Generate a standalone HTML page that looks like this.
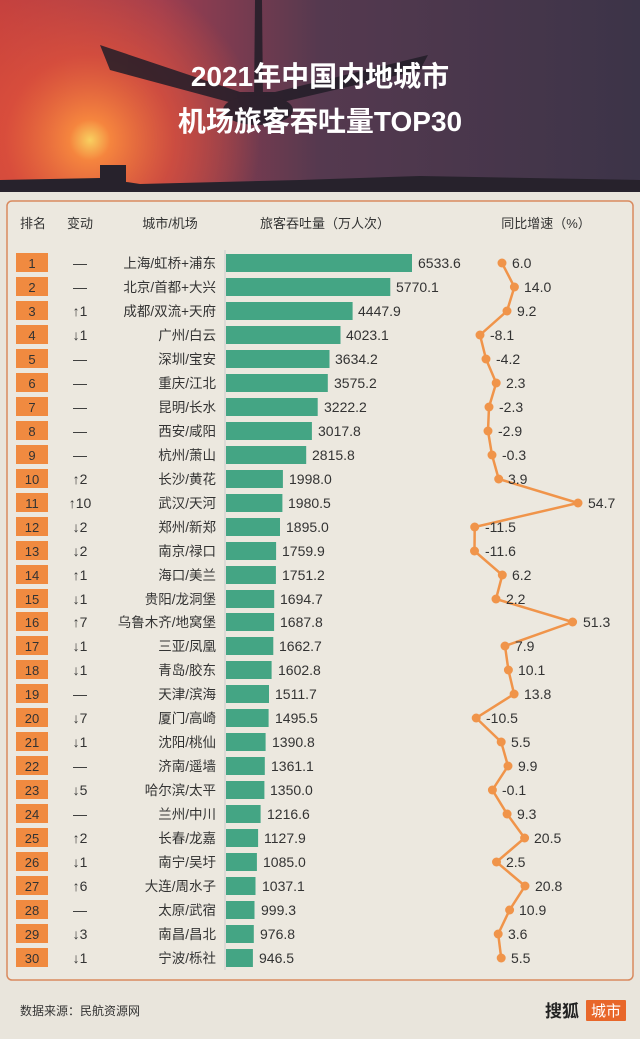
<!DOCTYPE html>
<html><head><meta charset="utf-8"><style>
html,body{margin:0;padding:0;background:#e9e5dc;}
svg{display:block;font-family:"Liberation Sans","Noto Sans CJK SC",sans-serif;}
</style></head><body>
<svg width="640" height="1039" viewBox="0 0 640 1039" xmlns="http://www.w3.org/2000/svg">
<defs>
<linearGradient id="sky" x1="0" y1="0" x2="1" y2="0">
<stop offset="0" stop-color="#c4403e"/><stop offset="0.25" stop-color="#9c3d50"/><stop offset="0.5" stop-color="#55394f"/><stop offset="1" stop-color="#3c3448"/>
</linearGradient>
<radialGradient id="sun" cx="90" cy="140" r="170" gradientUnits="userSpaceOnUse">
<stop offset="0" stop-color="#f8d060"/><stop offset="0.12" stop-color="#f5853e"/><stop offset="0.5" stop-color="#e2533a" stop-opacity="0.7"/><stop offset="1" stop-color="#e2533a" stop-opacity="0"/>
</radialGradient>
</defs>
<rect x="0" y="0" width="640" height="192" fill="url(#sky)"/>
<rect x="0" y="0" width="640" height="192" fill="url(#sun)"/>
<path d="M0 192 L0 180 L100 178 L140 184 L300 180 L420 176 L640 180 L640 192Z" fill="#27222c"/>
<rect x="100" y="165" width="26" height="20" fill="#27222c"/>
<g fill="#221d28" opacity="0.85">
<path d="M255 0 L262 0 L263 100 L254 100Z"/>
<path d="M100 45 L110 70 L240 105 L270 105 L420 70 L428 55 L275 92 L240 92Z"/>
<ellipse cx="258" cy="110" rx="35" ry="15"/>
</g>
<text x="320" y="86" font-size="28" font-weight="bold" fill="#fff" text-anchor="middle">2021年中国内地城市</text>
<text x="320" y="131" font-size="28" font-weight="bold" fill="#fff" text-anchor="middle">机场旅客吞吐量TOP30</text>
<rect x="0" y="192" width="640" height="847" fill="#e9e5dc"/>
<rect x="7" y="201" width="626" height="779" rx="5" fill="#ece8df" stroke="#d98a5e" stroke-width="1.5"/>
<g font-size="13" fill="#333" text-anchor="middle">
<text x="33" y="228">排名</text><text x="80" y="228">变动</text><text x="170" y="228">城市/机场</text><text x="325" y="228">旅客吞吐量（万人次）</text><text x="546" y="228">同比增速（%）</text>
</g>
<line x1="225" y1="250" x2="225" y2="970" stroke="#ccc" stroke-width="1"/>
<g fill="#f08a40">
<rect x="16" y="253" width="32" height="19"/><rect x="16" y="277" width="32" height="19"/><rect x="16" y="301" width="32" height="19"/><rect x="16" y="325" width="32" height="19"/><rect x="16" y="349" width="32" height="19"/><rect x="16" y="373" width="32" height="19"/><rect x="16" y="397" width="32" height="19"/><rect x="16" y="421" width="32" height="19"/><rect x="16" y="445" width="32" height="19"/><rect x="16" y="469" width="32" height="19"/><rect x="16" y="493" width="32" height="19"/><rect x="16" y="517" width="32" height="19"/><rect x="16" y="541" width="32" height="19"/><rect x="16" y="565" width="32" height="19"/><rect x="16" y="589" width="32" height="19"/><rect x="16" y="612" width="32" height="19"/><rect x="16" y="636" width="32" height="19"/><rect x="16" y="660" width="32" height="19"/><rect x="16" y="684" width="32" height="19"/><rect x="16" y="708" width="32" height="19"/><rect x="16" y="732" width="32" height="19"/><rect x="16" y="756" width="32" height="19"/><rect x="16" y="780" width="32" height="19"/><rect x="16" y="804" width="32" height="19"/><rect x="16" y="828" width="32" height="19"/><rect x="16" y="852" width="32" height="19"/><rect x="16" y="876" width="32" height="19"/><rect x="16" y="900" width="32" height="19"/><rect x="16" y="924" width="32" height="19"/><rect x="16" y="948" width="32" height="19"/>
</g>
<g font-size="13" fill="#333" text-anchor="middle">
<text x="32" y="268">1</text><text x="32" y="292">2</text><text x="32" y="316">3</text><text x="32" y="340">4</text><text x="32" y="364">5</text><text x="32" y="388">6</text><text x="32" y="412">7</text><text x="32" y="436">8</text><text x="32" y="460">9</text><text x="32" y="484">10</text><text x="32" y="508">11</text><text x="32" y="532">12</text><text x="32" y="556">13</text><text x="32" y="580">14</text><text x="32" y="604">15</text><text x="32" y="627">16</text><text x="32" y="651">17</text><text x="32" y="675">18</text><text x="32" y="699">19</text><text x="32" y="723">20</text><text x="32" y="747">21</text><text x="32" y="771">22</text><text x="32" y="795">23</text><text x="32" y="819">24</text><text x="32" y="843">25</text><text x="32" y="867">26</text><text x="32" y="891">27</text><text x="32" y="915">28</text><text x="32" y="939">29</text><text x="32" y="963">30</text>
</g>
<g font-size="14" fill="#333" text-anchor="middle">
<text x="80" y="268">—</text><text x="80" y="292">—</text><text x="80" y="316">↑1</text><text x="80" y="340">↓1</text><text x="80" y="364">—</text><text x="80" y="388">—</text><text x="80" y="412">—</text><text x="80" y="436">—</text><text x="80" y="460">—</text><text x="80" y="484">↑2</text><text x="80" y="508">↑10</text><text x="80" y="532">↓2</text><text x="80" y="556">↓2</text><text x="80" y="580">↑1</text><text x="80" y="604">↓1</text><text x="80" y="627">↑7</text><text x="80" y="651">↓1</text><text x="80" y="675">↓1</text><text x="80" y="699">—</text><text x="80" y="723">↓7</text><text x="80" y="747">↓1</text><text x="80" y="771">—</text><text x="80" y="795">↓5</text><text x="80" y="819">—</text><text x="80" y="843">↑2</text><text x="80" y="867">↓1</text><text x="80" y="891">↑6</text><text x="80" y="915">—</text><text x="80" y="939">↓3</text><text x="80" y="963">↓1</text>
</g>
<g font-size="13.5" fill="#333" text-anchor="end">
<text x="216" y="268">上海/虹桥+浦东</text><text x="216" y="292">北京/首都+大兴</text><text x="216" y="316">成都/双流+天府</text><text x="216" y="340">广州/白云</text><text x="216" y="364">深圳/宝安</text><text x="216" y="388">重庆/江北</text><text x="216" y="412">昆明/长水</text><text x="216" y="436">西安/咸阳</text><text x="216" y="460">杭州/萧山</text><text x="216" y="484">长沙/黄花</text><text x="216" y="508">武汉/天河</text><text x="216" y="532">郑州/新郑</text><text x="216" y="556">南京/禄口</text><text x="216" y="580">海口/美兰</text><text x="216" y="604">贵阳/龙洞堡</text><text x="216" y="627">乌鲁木齐/地窝堡</text><text x="216" y="651">三亚/凤凰</text><text x="216" y="675">青岛/胶东</text><text x="216" y="699">天津/滨海</text><text x="216" y="723">厦门/高崎</text><text x="216" y="747">沈阳/桃仙</text><text x="216" y="771">济南/遥墙</text><text x="216" y="795">哈尔滨/太平</text><text x="216" y="819">兰州/中川</text><text x="216" y="843">长春/龙嘉</text><text x="216" y="867">南宁/吴圩</text><text x="216" y="891">大连/周水子</text><text x="216" y="915">太原/武宿</text><text x="216" y="939">南昌/昌北</text><text x="216" y="963">宁波/栎社</text>
</g>
<g fill="#44a584">
<rect x="226" y="254" width="186" height="18"/><rect x="226" y="278" width="164.3" height="18"/><rect x="226" y="302" width="126.6" height="18"/><rect x="226" y="326" width="114.5" height="18"/><rect x="226" y="350" width="103.5" height="18"/><rect x="226" y="374" width="101.8" height="18"/><rect x="226" y="398" width="91.7" height="18"/><rect x="226" y="422" width="85.9" height="18"/><rect x="226" y="446" width="80.2" height="18"/><rect x="226" y="470" width="56.9" height="18"/><rect x="226" y="494" width="56.4" height="18"/><rect x="226" y="518" width="54" height="18"/><rect x="226" y="542" width="50.1" height="18"/><rect x="226" y="566" width="49.9" height="18"/><rect x="226" y="590" width="48.2" height="18"/><rect x="226" y="613" width="48.1" height="18"/><rect x="226" y="637" width="47.3" height="18"/><rect x="226" y="661" width="45.6" height="18"/><rect x="226" y="685" width="43" height="18"/><rect x="226" y="709" width="42.6" height="18"/><rect x="226" y="733" width="39.6" height="18"/><rect x="226" y="757" width="38.8" height="18"/><rect x="226" y="781" width="38.4" height="18"/><rect x="226" y="805" width="34.6" height="18"/><rect x="226" y="829" width="32.1" height="18"/><rect x="226" y="853" width="30.9" height="18"/><rect x="226" y="877" width="29.5" height="18"/><rect x="226" y="901" width="28.5" height="18"/><rect x="226" y="925" width="27.8" height="18"/><rect x="226" y="949" width="26.9" height="18"/>
</g>
<g font-size="14" fill="#333">
<text x="418" y="268">6533.6</text><text x="396" y="292">5770.1</text><text x="358" y="316">4447.9</text><text x="346" y="340">4023.1</text><text x="335" y="364">3634.2</text><text x="334" y="388">3575.2</text><text x="324" y="412">3222.2</text><text x="318" y="436">3017.8</text><text x="312" y="460">2815.8</text><text x="289" y="484">1998.0</text><text x="288" y="508">1980.5</text><text x="286" y="532">1895.0</text><text x="282" y="556">1759.9</text><text x="282" y="580">1751.2</text><text x="280" y="604">1694.7</text><text x="280" y="627">1687.8</text><text x="279" y="651">1662.7</text><text x="278" y="675">1602.8</text><text x="275" y="699">1511.7</text><text x="275" y="723">1495.5</text><text x="272" y="747">1390.8</text><text x="271" y="771">1361.1</text><text x="270" y="795">1350.0</text><text x="267" y="819">1216.6</text><text x="264" y="843">1127.9</text><text x="263" y="867">1085.0</text><text x="262" y="891">1037.1</text><text x="261" y="915">999.3</text><text x="260" y="939">976.8</text><text x="259" y="963">946.5</text>
</g>
<polyline fill="none" stroke="#f0944a" stroke-width="2.5" points="502,263 514.4,287 507,311 480,335 486,359 496.2,383 489,407 488,431 492,455 498.7,479 578,503 474.7,527 474.5,551 502.3,575 496,599 572.6,622 505,646 508.4,670 514.1,694 476.2,718 501.2,742 508,766 492.4,790 507.1,814 524.6,838 496.5,862 525,886 509.6,910 498.2,934 501.2,958"/>
<g fill="#f0944a">
<circle cx="502" cy="263" r="4.5"/><circle cx="514.4" cy="287" r="4.5"/><circle cx="507" cy="311" r="4.5"/><circle cx="480" cy="335" r="4.5"/><circle cx="486" cy="359" r="4.5"/><circle cx="496.2" cy="383" r="4.5"/><circle cx="489" cy="407" r="4.5"/><circle cx="488" cy="431" r="4.5"/><circle cx="492" cy="455" r="4.5"/><circle cx="498.7" cy="479" r="4.5"/><circle cx="578" cy="503" r="4.5"/><circle cx="474.7" cy="527" r="4.5"/><circle cx="474.5" cy="551" r="4.5"/><circle cx="502.3" cy="575" r="4.5"/><circle cx="496" cy="599" r="4.5"/><circle cx="572.6" cy="622" r="4.5"/><circle cx="505" cy="646" r="4.5"/><circle cx="508.4" cy="670" r="4.5"/><circle cx="514.1" cy="694" r="4.5"/><circle cx="476.2" cy="718" r="4.5"/><circle cx="501.2" cy="742" r="4.5"/><circle cx="508" cy="766" r="4.5"/><circle cx="492.4" cy="790" r="4.5"/><circle cx="507.1" cy="814" r="4.5"/><circle cx="524.6" cy="838" r="4.5"/><circle cx="496.5" cy="862" r="4.5"/><circle cx="525" cy="886" r="4.5"/><circle cx="509.6" cy="910" r="4.5"/><circle cx="498.2" cy="934" r="4.5"/><circle cx="501.2" cy="958" r="4.5"/>
</g>
<g font-size="14" fill="#333">
<text x="512" y="268">6.0</text><text x="524" y="292">14.0</text><text x="517" y="316">9.2</text><text x="490" y="340">-8.1</text><text x="496" y="364">-4.2</text><text x="506" y="388">2.3</text><text x="499" y="412">-2.3</text><text x="498" y="436">-2.9</text><text x="502" y="460">-0.3</text><text x="508" y="484">3.9</text><text x="588" y="508">54.7</text><text x="485" y="532">-11.5</text><text x="485" y="556">-11.6</text><text x="512" y="580">6.2</text><text x="506" y="604">2.2</text><text x="583" y="627">51.3</text><text x="515" y="651">7.9</text><text x="518" y="675">10.1</text><text x="524" y="699">13.8</text><text x="486" y="723">-10.5</text><text x="511" y="747">5.5</text><text x="518" y="771">9.9</text><text x="502" y="795">-0.1</text><text x="517" y="819">9.3</text><text x="534" y="843">20.5</text><text x="506" y="867">2.5</text><text x="535" y="891">20.8</text><text x="519" y="915">10.9</text><text x="508" y="939">3.6</text><text x="511" y="963">5.5</text>
</g>
<text x="20" y="1015" font-size="12" fill="#333">数据来源：民航资源网</text>
<text x="545" y="1017" font-size="17" font-weight="bold" fill="#222">搜狐</text>
<rect x="586" y="1000" width="40" height="21" fill="#e8672a" rx="1"/>
<text x="606" y="1016" font-size="15" fill="#fff" text-anchor="middle">城市</text>
</svg>
</body></html>
